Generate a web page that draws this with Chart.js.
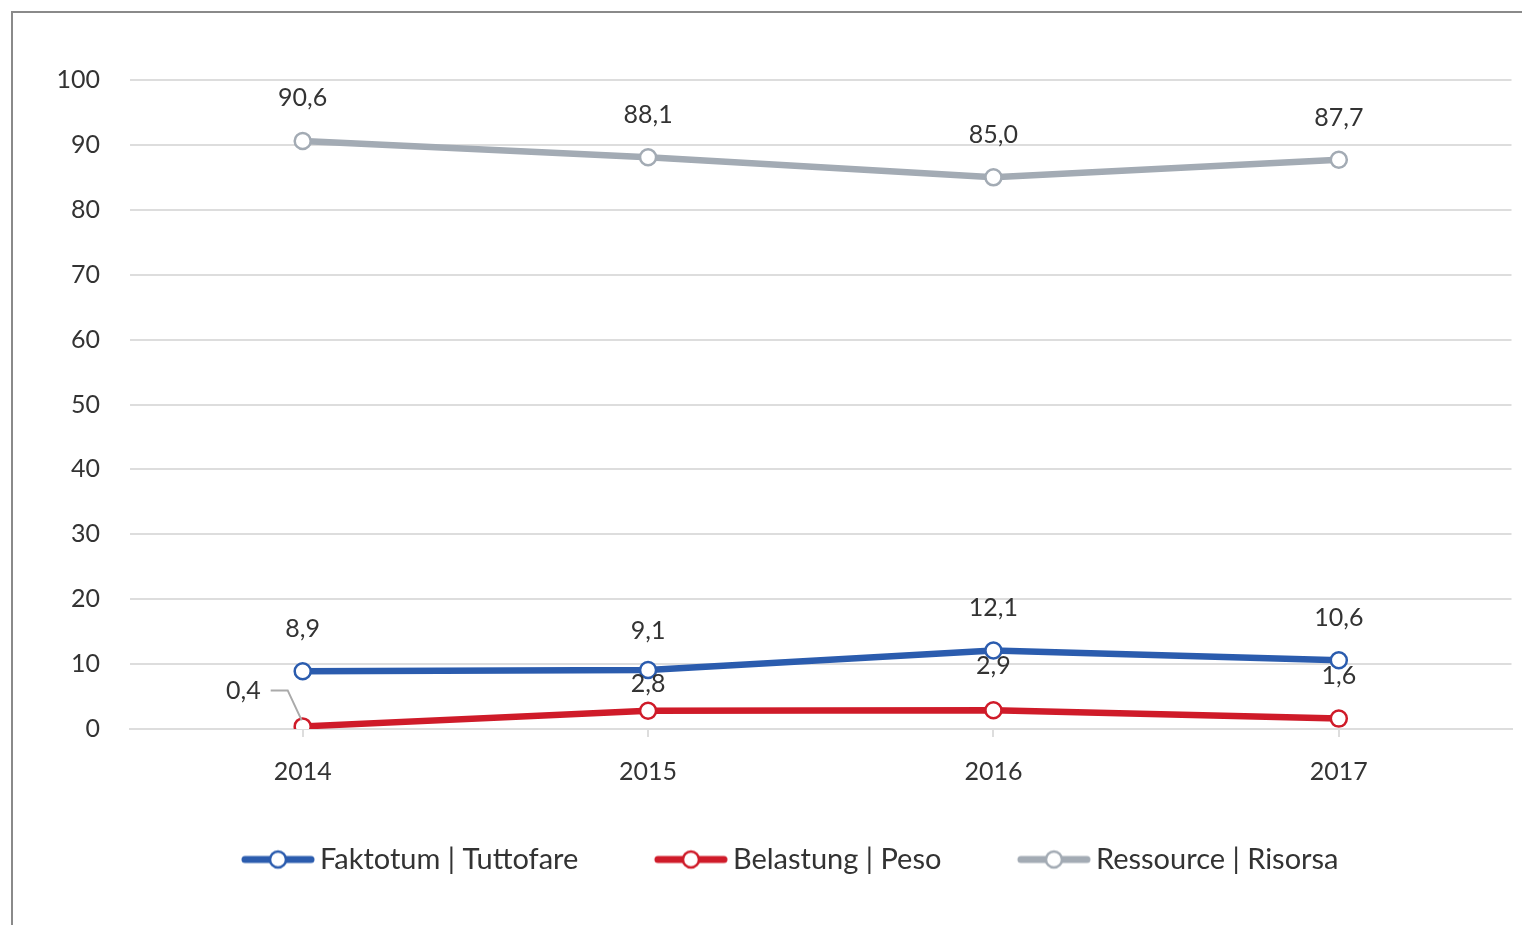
<!DOCTYPE html>
<html>
<head>
<meta charset="utf-8">
<script src="https://cdn.jsdelivr.net/npm/chart.js@4"></script>
<style>
  html, body { margin: 0; padding: 0; background: #fff; overflow: hidden; }
  #frame { position: absolute; left: 11px; top: 11px; width: 1600px; height: 1000px;
           border-left: 2px solid #8a8a8a; border-top: 2px solid #8a8a8a; }
  #wrap { position: absolute; left: 0; top: 0; width: 1522px; height: 925px; }
</style>
</head>
<body>
<div id="frame"></div>
<div id="wrap"><canvas id="chart" width="1522" height="925"></canvas></div>
<script>
// Jahre
var years = ['2014', '2015', '2016', '2017'];
// Werte in %
var faktotum = [8.9, 9.1, 12.1, 10.6];
var belastung = [0.4, 2.8, 2.9, 1.6];
var ressource = [90.6, 88.1, 85.0, 87.7];
var yTicks = [0, 10, 20, 30, 40, 50, 60, 70, 80, 90, 100];

var FONT = 'Lato, "Open Sans", sans-serif';
var LEG_BOX = 120;   // pointStyleWidth der Legende
var LEG_FONT = 29;

// Legendensymbol: Linie mit Kreis, rechtsbündig im Bild
function legendIcon(color) {
  var c = document.createElement('canvas');
  c.width = LEG_BOX + LEG_FONT - 10; c.height = 22;
  var x0 = c.width - 74;
  var g = c.getContext('2d');
  g.strokeStyle = color;
  g.lineWidth = 7;
  g.lineCap = 'round';
  g.beginPath(); g.moveTo(x0 + 4, 11); g.lineTo(x0 + 70, 11); g.stroke();
  g.fillStyle = '#fff';
  g.lineWidth = 2.5;
  g.beginPath(); g.arc(x0 + 37, 11, 8, 0, Math.PI * 2); g.fill(); g.stroke();
  return c;
}

// Beschriftungen über den Punkten
var labelPlugin = {
  id: 'valueLabels',
  afterDatasetsDraw: function(chart) {
    var ctx = chart.ctx;
    ctx.save();
    ctx.font = '25px ' + FONT;
    ctx.fillStyle = '#333';
    ctx.textAlign = 'center';
    ctx.textBaseline = 'middle';
    chart.data.datasets.forEach(function(ds, i) {
      var meta = chart.getDatasetMeta(i);
      meta.data.forEach(function(pt, j) {
        var txt = ds.data[j].toFixed(1).replace('.', ',');
        var dy = ds.labelDy ? ds.labelDy[j] : 42;
        if (dy === null) {
          // 0,4 mit Führungslinie links
          ctx.strokeStyle = '#aaa';
          ctx.lineWidth = 2;
          ctx.beginPath();
          ctx.moveTo(pt.x - 32, pt.y - 36);
          ctx.lineTo(pt.x - 15, pt.y - 36);
          ctx.lineTo(pt.x - 1, pt.y - 6);
          ctx.stroke();
          ctx.textAlign = 'right';
          ctx.fillText(txt, pt.x - 42, pt.y - 35);
          ctx.textAlign = 'center';
        } else {
          ctx.fillText(txt, pt.x, pt.y - dy);
        }
      });
    });
    ctx.restore();
  }
};

var colors = ['#2b5cae', '#cf1b29', '#a3abb4'];
var icons = colors.map(legendIcon);

var ctx = document.getElementById('chart').getContext('2d');
var chart = new Chart(ctx, {
  type: 'line',
  data: {
    labels: years,
    datasets: [{
      label: 'Faktotum | Tuttofare',
      data: faktotum,
      borderColor: colors[0],
      pointBorderColor: colors[0],
      labelDy: [42, 39, 43, 42]
    }, {
      label: 'Belastung | Peso',
      data: belastung,
      borderColor: colors[1],
      pointBorderColor: colors[1],
      labelDy: [null, 27, 44, 43]
    }, {
      label: 'Ressource | Risorsa',
      data: ressource,
      borderColor: colors[2],
      pointBorderColor: colors[2],
      labelDy: [43, 42, 42, 42]
    }]
  },
  options: {
    responsive: false,
    animation: false,
    devicePixelRatio: 1,
    layout: { padding: { top: 80, right: 10, left: 12, bottom: 41 } },
    elements: {
      line: { borderWidth: 6.5, tension: 0, borderCapStyle: 'round' },
      point: { radius: 8, borderWidth: 2.5, backgroundColor: '#fff', hoverRadius: 8, pointStyle: 'circle' }
    },
    scales: {
      x: {
        offset: true,
        grid: { display: true, drawOnChartArea: false, offset: false, color: '#ddd', lineWidth: 2, tickLength: 8 },
        border: { display: true, color: '#ddd', width: 2 },
        ticks: { color: '#333', font: { family: FONT, size: 25 }, padding: 20, maxRotation: 0 },
        afterFit: function(s) { s.height = 96; }
      },
      y: {
        min: 0, max: 100,
        afterBuildTicks: function(s) { s.ticks = yTicks.map(function(v) { return { value: v }; }); },
        grid: { color: '#ddd', lineWidth: 2, drawTicks: false },
        border: { display: false },
        ticks: { color: '#333', font: { family: FONT, size: 25 }, padding: 30 },
        afterFit: function(s) { s.width = 118; }
      }
    },
    plugins: {
      legend: {
        position: 'bottom',
        labels: {
          usePointStyle: true,
          pointStyleWidth: LEG_BOX,
          color: '#333',
          font: { family: FONT, size: LEG_FONT },
          padding: 20,
          generateLabels: function(chart) {
            var items = Chart.defaults.plugins.legend.labels.generateLabels(chart);
            items.forEach(function(it, k) { it.pointStyle = icons[k]; });
            return items;
          }
        }
      },
      tooltip: { enabled: false }
    }
  },
  plugins: [labelPlugin]
});
</script>
</body>
</html>
